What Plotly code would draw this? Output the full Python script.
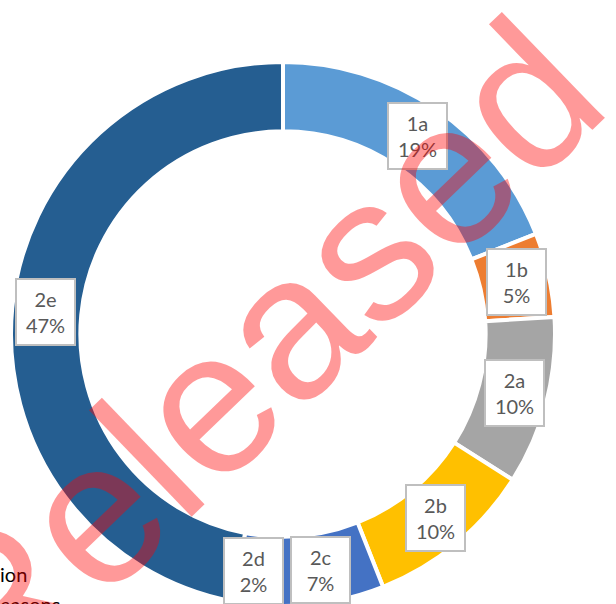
import math
import plotly.graph_objects as go

# ---- data ----
categories = ["1a", "1b", "2a", "2b", "2c", "2d", "2e"]
shares = [19, 5, 10, 10, 7, 2, 47]
colors = ["#5B9BD5", "#ED7D31", "#A5A5A5", "#FFC000", "#4472C4", "#3F6FBF", "#255E91"]
legend_fragments = ["ion", "easons"]
watermark_text = "Released"

# ---- layout constants ----
W, H = 616, 620
CX, CY, R = 283, 334, 272      # donut centre / outer radius in px
HOLE = 0.745
LABEL_R = 239

fig = go.Figure()
fig.add_trace(go.Pie(
    labels=categories,
    values=shares,
    sort=False,
    direction="clockwise",
    rotation=0,
    hole=HOLE,
    marker=dict(colors=colors, line=dict(color="white", width=4)),
    textinfo="none",
    hoverinfo="label+percent",
    showlegend=False,
    domain=dict(x=[(CX - R) / W, (CX + R) / W], y=[1 - (CY + R) / H, 1 - (CY - R) / H]),
))

total = sum(shares)
cum = 0
annotations = []
for cat, v in zip(categories, shares):
    mid = (cum + v / 2) / total * 2 * math.pi
    cum += v
    px = CX + LABEL_R * math.sin(mid)
    py = CY - LABEL_R * math.cos(mid)
    annotations.append(dict(
        x=px / W, y=1 - py / H, xref="paper", yref="paper",
        xanchor="center", yanchor="middle",
        text=f"{cat}<br>{round(v / total * 100)}%",
        showarrow=False, align="center",
        width=55, height=62,
        bgcolor="white", bordercolor="#BFBFBF", borderwidth=2,
        font=dict(family="Lato, Open Sans, sans-serif", size=20, color="#595959"),
    ))

# cut-off legend text at lower left
for i, frag in enumerate(legend_fragments):
    annotations.append(dict(
        x=-2 / W, y=1 - (574 + i * 30) / H, xref="paper", yref="paper",
        xanchor="left", yanchor="middle", text=frag, showarrow=False,
        font=dict(family="Lato, Open Sans, sans-serif", size=20, color="#000000"),
    ))

# watermark
annotations.append(dict(
    x=255 / W, y=1 - 357 / H, xref="paper", yref="paper",
    xanchor="center", yanchor="middle", text=watermark_text, showarrow=False,
    textangle=-44,
    font=dict(family="Liberation Sans, Arial, sans-serif", size=204, color="rgba(255,0,0,0.4)"),
))

fig.update_layout(
    width=W, height=H,
    margin=dict(l=0, r=0, t=0, b=0),
    paper_bgcolor="white", plot_bgcolor="white",
    annotations=annotations,
)

fig.write_html(
    "out.html",
    config={"displayModeBar": False},
    post_script="document.body.style.margin='0';document.body.style.overflow='hidden';",
)
